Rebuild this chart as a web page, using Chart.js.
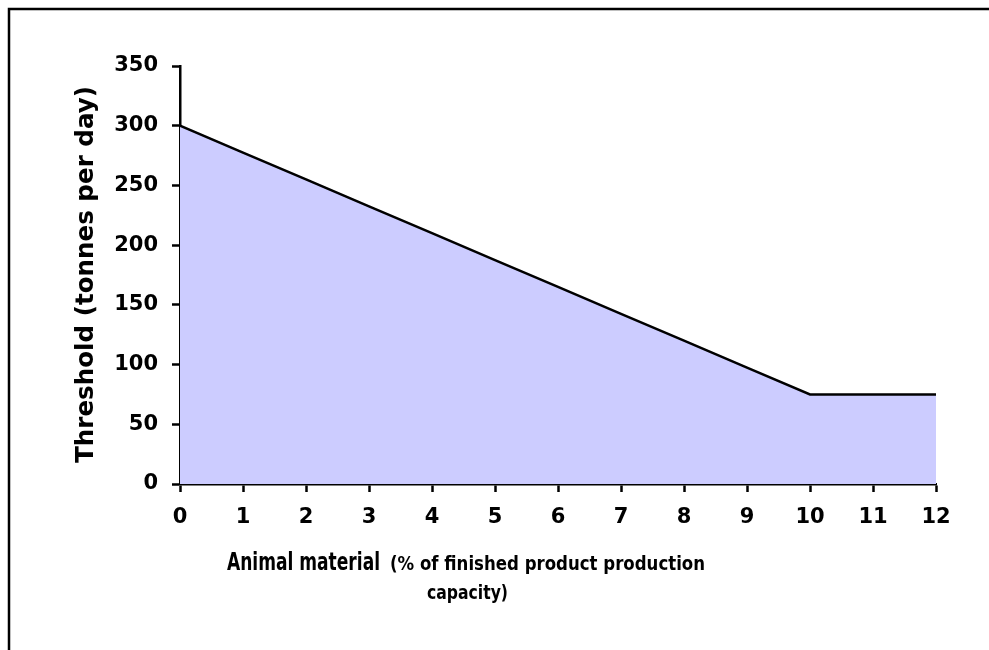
<!DOCTYPE html>
<html>
<head>
<meta charset="utf-8">
<script src="https://cdn.jsdelivr.net/npm/chart.js@4"></script>
<style>
html,body{margin:0;padding:0;background:#fff;}
#wrap{width:989px;height:650px;position:relative;}
</style>
</head>
<body>
<div id="wrap"><canvas id="c" width="989" height="650"></canvas></div>
<script>
const xValues = [0, 1, 2, 3, 4, 5, 6, 7, 8, 9, 10, 11, 12];
const thresholdValues = [300, 277.5, 255, 232.5, 210, 187.5, 165, 142.5, 120, 97.5, 75, 75, 75];
const yTicks = [0, 50, 100, 150, 200, 250, 300, 350];
const xTicks = [0, 1, 2, 3, 4, 5, 6, 7, 8, 9, 10, 11, 12];
const yTitle = 'Threshold (tonnes per day)';
const xTitleMain = 'Animal material';
const xTitleSub1 = '(% of finished product production';
const xTitleSub2 = 'capacity)';

const areaData = xValues.map((x, i) => ({x: x, y: thresholdValues[i]}));
const lastX = xValues[xValues.length - 1];
const edgeData = [{x: lastX, y: 0}, {x: lastX, y: thresholdValues[thresholdValues.length - 1]}];

const tickFont = {family: '"DejaVu Sans", Verdana, sans-serif', size: 21, weight: 'bold'};

function fitText(ctx, text, x, y, width) {
  const w = ctx.measureText(text).width;
  ctx.save();
  ctx.translate(x, y);
  ctx.scale(width / w, 1);
  ctx.fillText(text, 0, 0);
  ctx.restore();
}

const decor = {
  id: 'decor',
  beforeDraw(chart) {
    const ctx = chart.ctx;
    ctx.save();
    ctx.fillStyle = '#fff';
    ctx.fillRect(0, 0, chart.width, chart.height);
    ctx.strokeStyle = '#000';
    ctx.lineWidth = 2.5;
    ctx.strokeRect(9, 9, chart.width + 20, chart.height + 20);
    ctx.restore();
  },
  afterDraw(chart) {
    const ctx = chart.ctx;
    const a = chart.chartArea;
    ctx.save();
    ctx.fillStyle = '#000';
    // y title
    ctx.translate(a.left - 93, (a.top + a.bottom) / 2);
    ctx.rotate(-Math.PI / 2);
    ctx.font = 'bold 24px "DejaVu Sans", Verdana, sans-serif';
    ctx.textAlign = 'left';
    ctx.textBaseline = 'middle';
    fitText(ctx, yTitle, -188, 0, 377);
    ctx.restore();

    // x title
    ctx.save();
    ctx.fillStyle = '#000';
    ctx.textBaseline = 'alphabetic';
    ctx.textAlign = 'left';
    const y1 = a.bottom + 86;
    ctx.font = 'bold 25px "DejaVu Sans Condensed", "DejaVu Sans", sans-serif';
    fitText(ctx, xTitleMain, a.left + 47, y1, 153);
    ctx.font = 'bold 20px "DejaVu Sans Condensed", "DejaVu Sans", sans-serif';
    fitText(ctx, xTitleSub1, a.left + 210, y1, 315);
    fitText(ctx, xTitleSub2, a.left + 247, y1 + 29, 81);
    ctx.restore();
  }
};

new Chart(document.getElementById('c'), {
  type: 'scatter',
  data: {
    datasets: [
      {
        data: areaData,
        showLine: true,
        borderColor: '#000',
        borderWidth: 2.5,
        backgroundColor: '#CCCCFF',
        fill: 'origin',
        pointRadius: 0,
        tension: 0
      },
      {
        data: edgeData,
        showLine: true,
        borderColor: '#000',
        borderWidth: 2.5,
        fill: false,
        pointRadius: 0
      }
    ]
  },
  options: {
    responsive: false,
    animation: false,
    devicePixelRatio: 1,
    layout: {padding: {left: 0, top: 66, right: 53, bottom: 0}},
    plugins: {legend: {display: false}, tooltip: {enabled: false}},
    scales: {
      x: {
        type: 'linear',
        min: xTicks[0],
        max: xTicks[xTicks.length - 1],
        afterBuildTicks: s => { s.ticks = xTicks.map(v => ({value: v})); },
        afterFit: s => { s.height = 166; },
        ticks: {color: '#000', font: tickFont, padding: 13, maxRotation: 0, autoSkip: false},
        grid: {drawOnChartArea: false, drawTicks: true, tickLength: 8, tickWidth: 2.5, tickColor: '#000'},
        border: {color: '#000', width: 2.5}
      },
      y: {
        type: 'linear',
        min: yTicks[0],
        max: yTicks[yTicks.length - 1],
        afterBuildTicks: s => { s.ticks = yTicks.map(v => ({value: v})); },
        afterFit: s => { s.width = 180; },
        ticks: {color: '#000', font: tickFont, padding: 14},
        grid: {drawOnChartArea: false, drawTicks: true, tickLength: 8, tickWidth: 2.5, tickColor: '#000'},
        border: {color: '#000', width: 2.5}
      }
    }
  },
  plugins: [decor]
});
</script>
</body>
</html>
